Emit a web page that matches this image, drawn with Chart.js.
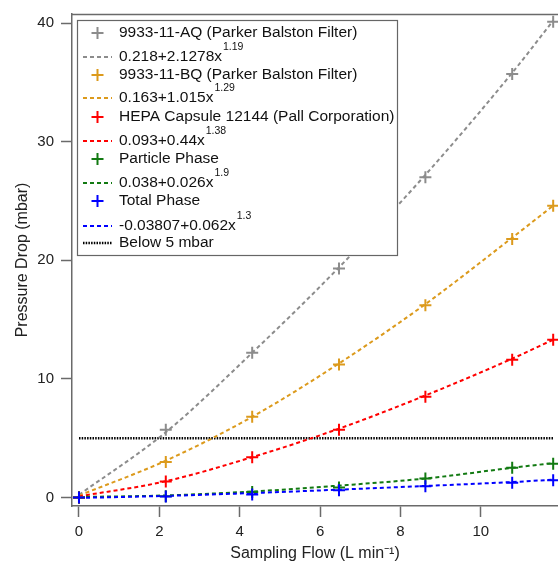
<!DOCTYPE html>
<html lang="en">
<head>
    <meta charset="UTF-8">
    <title>Pressure Drop vs Sampling Flow</title>
    <script src="https://cdn.jsdelivr.net/npm/chart.js"></script>
    <style>
        html, body {
            margin: 0;
            padding: 0;
            background: white;
            overflow: hidden;
        }
        .chart-container {
            position: relative;
            width: 558px;
            height: 562px;
        }
    </style>
</head>
<body>
    <div class="chart-container">
        <canvas id="dpChart"></canvas>
    </div>

    <script>
        // sampling flow (L/min) of each measurement
        const flow = [0, 2.16, 4.31, 6.47, 8.62, 10.78, 11.8];

        // measured pressure drops (mbar)
        const aqPoints = [0, 5.7, 12.2, 19.3, 27.0, 35.7, 40.1];
        const bqPoints = [0, 3.0, 6.8, 11.2, 16.2, 21.8, 24.6];
        const hepaPoints = [0, 1.35, 3.4, 5.7, 8.5, 11.6, 13.3];
        const particlePoints = [0, 0.1, 0.45, 0.85, 1.6, 2.5, 2.85];
        const totalPoints = [0, 0.08, 0.25, 0.6, 0.95, 1.25, 1.45];

        // fitted curves
        const aqFit = [0.22, 5.5, 12.2, 19.4, 27.2, 35.8, 40.2];
        const bqFit = [0.16, 3.1, 6.8, 11.3, 16.3, 21.9, 24.6];
        const hepaFit = [0.09, 1.37, 3.4, 5.8, 8.6, 11.7, 13.3];
        const particleFit = [0.04, 0.17, 0.5, 1.0, 1.6, 2.5, 2.9];
        const totalFit = [-0.04, 0.13, 0.37, 0.66, 0.97, 1.3, 1.5];

        const limitFlow = [0, 11.8];
        const limitValue = [5, 5];

        const xTicks = [0, 2, 4, 6, 8, 10];
        const yTicks = [0, 10, 20, 30, 40];

        const GREY = '#8c8c8c';
        const ORANGE = '#dc9a1c';
        const RED = '#ff0000';
        const GREEN = '#127a12';
        const BLUE = '#0000ff';
        const AXIS = '#6a6a6a';
        const FONT = "'Liberation Sans', Arial, sans-serif";

        // legend rows (marker / dashed fit / dotted limit)
        const legendRows = [
            { kind: 'marker', color: GREY, text: '9933-11-AQ (Parker Balston Filter)' },
            { kind: 'dash', color: GREY, text: '0.218+2.1278x', sup: '1.19' },
            { kind: 'marker', color: ORANGE, text: '9933-11-BQ (Parker Balston Filter)' },
            { kind: 'dash', color: ORANGE, text: '0.163+1.015x', sup: '1.29' },
            { kind: 'marker', color: RED, text: 'HEPA Capsule 12144 (Pall Corporation)' },
            { kind: 'dash', color: RED, text: '0.093+0.44x', sup: '1.38' },
            { kind: 'marker', color: GREEN, text: 'Particle Phase' },
            { kind: 'dash', color: GREEN, text: '0.038+0.026x', sup: '1.9' },
            { kind: 'marker', color: BLUE, text: 'Total Phase' },
            { kind: 'dash', color: BLUE, text: '-0.03807+0.062x', sup: '1.3' },
            { kind: 'dot', color: '#000', text: 'Below 5 mbar' }
        ];
        const legendRowY = [33, 57, 75, 98, 117, 141, 159, 183, 201, 226, 243];

        function pts(ys) {
            return ys.map((y, i) => ({ x: flow[i], y: y }));
        }

        function pointSet(label, ys, color, order) {
            return {
                label: label,
                data: pts(ys),
                showLine: false,
                pointStyle: 'cross',
                pointRadius: 6,
                pointBorderWidth: 2,
                borderColor: color,
                backgroundColor: color,
                order: order
            };
        }

        function fitSet(label, ys, color, order) {
            return {
                label: label,
                data: pts(ys),
                showLine: true,
                borderColor: color,
                borderWidth: 2,
                borderDash: [4, 3],
                pointRadius: 0,
                cubicInterpolationMode: 'monotone',
                order: order
            };
        }

        // legend box drawn by hand so the exponents can be superscripts
        const legendBox = {
            id: 'legendBox',
            afterDraw(chart) {
                const ctx = chart.ctx;
                ctx.save();
                ctx.fillStyle = '#fff';
                ctx.fillRect(77, 20, 321, 236);
                ctx.strokeStyle = '#666';
                ctx.lineWidth = 1.2;
                ctx.strokeRect(77.5, 20.5, 320, 235);

                legendRows.forEach((row, i) => {
                    const y = legendRowY[i];
                    ctx.strokeStyle = row.color;
                    if (row.kind === 'marker') {
                        ctx.lineWidth = 2;
                        ctx.setLineDash([]);
                        ctx.beginPath();
                        ctx.moveTo(91.5, y); ctx.lineTo(103.5, y);
                        ctx.moveTo(97.5, y - 6); ctx.lineTo(97.5, y + 6);
                        ctx.stroke();
                    } else {
                        ctx.lineWidth = row.kind === 'dot' ? 2.5 : 2;
                        ctx.setLineDash(row.kind === 'dot' ? [1.5, 1.2] : [4, 3]);
                        ctx.beginPath();
                        ctx.moveTo(83, y); ctx.lineTo(112, y);
                        ctx.stroke();
                    }
                    ctx.setLineDash([]);
                    ctx.fillStyle = '#111';
                    ctx.font = '15.5px ' + FONT;
                    ctx.textBaseline = 'middle';
                    ctx.fillText(row.text, 119, y);
                    if (row.sup) {
                        const w = ctx.measureText(row.text).width;
                        ctx.font = '10.5px ' + FONT;
                        ctx.fillText(row.sup, 119 + w + 1, y - 10);
                    }
                });

                // top frame line
                ctx.strokeStyle = AXIS;
                ctx.lineWidth = 1.5;
                ctx.beginPath();
                ctx.moveTo(chart.chartArea.left, 14.5);
                ctx.lineTo(chart.width, 14.5);
                ctx.stroke();
                ctx.restore();
            }
        };

        const ctx = document.getElementById('dpChart').getContext('2d');
        new Chart(ctx, {
            type: 'scatter',
            data: {
                datasets: [
                    pointSet('Total Phase', totalPoints, BLUE, 1),
                    pointSet('Particle Phase', particlePoints, GREEN, 2),
                    pointSet('HEPA Capsule 12144 (Pall Corporation)', hepaPoints, RED, 3),
                    pointSet('9933-11-BQ (Parker Balston Filter)', bqPoints, ORANGE, 4),
                    pointSet('9933-11-AQ (Parker Balston Filter)', aqPoints, GREY, 5),
                    fitSet('0.218+2.1278x^1.19', aqFit, GREY, 10),
                    fitSet('0.163+1.015x^1.29', bqFit, ORANGE, 9),
                    fitSet('0.093+0.44x^1.38', hepaFit, RED, 8),
                    fitSet('0.038+0.026x^1.9', particleFit, GREEN, 7),
                    fitSet('-0.03807+0.062x^1.3', totalFit, BLUE, 6),
                    {
                        label: 'Below 5 mbar',
                        data: limitFlow.map((x, i) => ({ x: x, y: limitValue[i] })),
                        showLine: true,
                        borderColor: '#000',
                        borderWidth: 2.5,
                        borderDash: [1.5, 1.2],
                        pointRadius: 0,
                        order: 11
                    }
                ]
            },
            options: {
                responsive: true,
                maintainAspectRatio: false,
                animation: false,
                layout: {
                    autoPadding: false,
                    padding: { top: 14, left: 0, right: 0, bottom: 0 }
                },
                plugins: {
                    legend: { display: false },
                    tooltip: { enabled: false }
                },
                scales: {
                    x: {
                        type: 'linear',
                        min: -0.174,
                        max: 11.92,
                        afterBuildTicks: s => { s.ticks = xTicks.map(v => ({ value: v })); },
                        afterFit: s => {
                            s.height = 56;
                            s.paddingLeft = 0;
                            s.paddingRight = 0;
                        },
                        grid: {
                            drawOnChartArea: false,
                            drawTicks: true,
                            tickLength: 11,
                            tickWidth: 1.5,
                            tickColor: AXIS
                        },
                        border: { display: true, color: AXIS, width: 1.5 },
                        ticks: {
                            color: '#222',
                            padding: 6,
                            maxRotation: 0,
                            font: { family: FONT, size: 15 }
                        },
                        title: {
                            display: true,
                            text: 'Sampling Flow (L min\u207B\u00B9)',
                            color: '#222',
                            padding: { top: 0, bottom: 0 },
                            font: { family: FONT, size: 16, lineHeight: 1.0 }
                        }
                    },
                    y: {
                        type: 'linear',
                        min: -0.72,
                        max: 40.76,
                        afterBuildTicks: s => { s.ticks = yTicks.map(v => ({ value: v })); },
                        afterFit: s => {
                            s.width = 72;
                            s.paddingTop = 0;
                            s.paddingBottom = 0;
                        },
                        grid: {
                            drawOnChartArea: false,
                            drawTicks: true,
                            tickLength: 11,
                            tickWidth: 1.5,
                            tickColor: AXIS
                        },
                        border: { display: true, color: AXIS, width: 1.5 },
                        ticks: {
                            color: '#222',
                            padding: 7,
                            font: { family: FONT, size: 15 }
                        },
                        title: {
                            display: true,
                            text: 'Pressure Drop (mbar)',
                            color: '#222',
                            padding: { top: 13, bottom: 0 },
                            font: { family: FONT, size: 16 }
                        }
                    }
                }
            },
            plugins: [legendBox]
        });
    </script>
</body>
</html>
